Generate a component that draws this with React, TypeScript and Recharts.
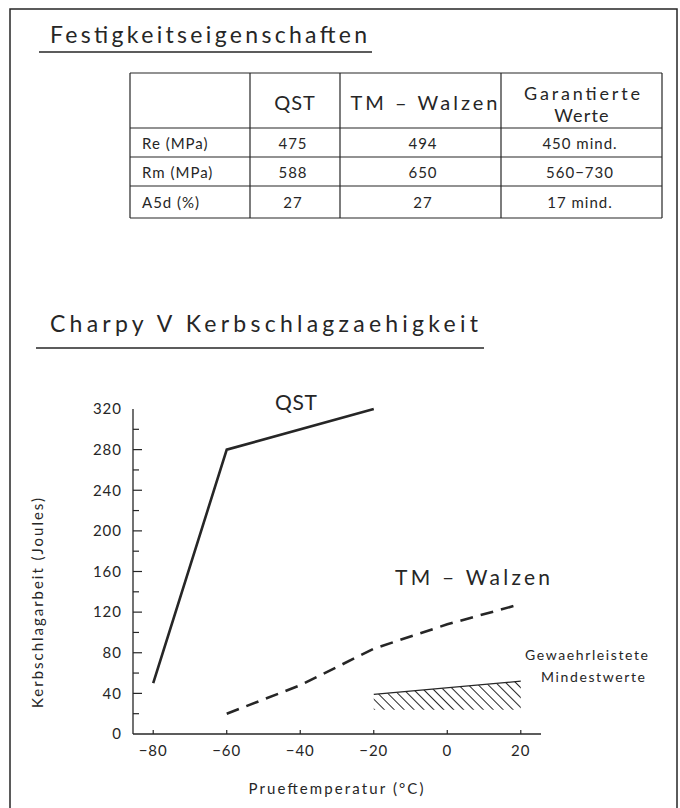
import { ComposedChart, Line, Area, XAxis, YAxis } from 'recharts';

// Kerbschlagarbeit (Joules) über Prueftemperatur (°C)
const temperatures = [-80, -60, -40, -20, 0, 20];
const qstJoules = [50, 280, null, 320, null, null];
const tmJoules = [null, 20, 48, 84, 108, 128];
const minUpper = [null, null, null, 39, null, 52];
const minLower = [null, null, null, 24, null, 24];
const yTicks = [0, 20, 40, 60, 80, 100, 120, 140, 160, 180, 200, 220, 240, 260, 280, 300, 320];

// Festigkeitseigenschaften
const tableHeader = ['', 'QST', 'TM – Walzen', 'Garantierte Werte'];
const rowLabels = ['Re (MPa)', 'Rm (MPa)', 'A5d (%)'];
const qstValues = ['475', '588', '27'];
const tmValues = ['494', '650', '27'];
const guaranteedValues = ['450 mind.', '560−730', '17 mind.'];

const INK = '#262626';
const FONT = "Lato, 'DejaVu Sans', sans-serif";

const data = temperatures.map((t, i) => ({
  t,
  qst: qstJoules[i],
  tm: tmJoules[i],
  minTop: minUpper[i],
  minBand: minUpper[i] != null ? [minLower[i], minUpper[i]] : null,
}));

const fmtMinus = (v: number) => String(v).replace('-', '−');

function YTick({ x, y, payload }: any) {
  const v = payload.value;
  const major = v % 40 === 0;
  return (
    <g>
      {v > 0 && v < 320 && (
        <line x1={x + 11} x2={x + 11 + (major ? 9 : 6)} y1={y} y2={y} stroke={INK} strokeWidth={1.2} />
      )}
      {major && (
        <text x={x} y={y} dy="0.35em" textAnchor="end" fontSize={15} fill={INK} fontFamily={FONT} letterSpacing={1}>
          {v}
        </text>
      )}
    </g>
  );
}

function XTick({ x, y, payload }: any) {
  return (
    <g>
      <line x1={x} x2={x} y1={y - 11} y2={y - 15} stroke={INK} strokeWidth={1.2} />
      <text x={x} y={y} dy="0.71em" textAnchor="middle" fontSize={15} fill={INK} fontFamily={FONT} letterSpacing={1}>
        {fmtMinus(payload.value)}
      </text>
    </g>
  );
}

// table geometry
const colX = [130, 250, 340, 501, 662];
const rowY = [73, 128, 157, 186, 218];

function Background() {
  const txt = { fill: INK, fontFamily: FONT } as const;
  return (
    <svg width={680} height={808} style={{ position: 'absolute', left: 0, top: 0 }}>
      <rect x={10} y={9} width={667} height={812} fill="none" stroke={INK} strokeWidth={1.5} />

      <text x={50} y={43} fontSize={23} textLength={317} {...txt}>Festigkeitseigenschaften</text>
      <line x1={39} x2={372} y1={52} y2={52} stroke={INK} strokeWidth={1.3} />

      {colX.map((x) => (
        <line key={'c' + x} x1={x} x2={x} y1={rowY[0]} y2={rowY[4]} stroke={INK} strokeWidth={1.2} />
      ))}
      {rowY.map((y) => (
        <line key={'r' + y} x1={colX[0]} x2={colX[4]} y1={y} y2={y} stroke={INK} strokeWidth={1.2} />
      ))}

      <text x={295} y={110} fontSize={20} textAnchor="middle" letterSpacing={1} {...txt}>{tableHeader[1]}</text>
      <text x={424} y={110} fontSize={20} textAnchor="middle" textLength={147} {...txt}>{tableHeader[2]}</text>
      <text x={582} y={100} fontSize={18} textAnchor="middle" textLength={116} {...txt}>{tableHeader[3].split(' ')[0]}</text>
      <text x={582} y={122} fontSize={18} textAnchor="middle" letterSpacing={1.2} {...txt}>{tableHeader[3].split(' ')[1]}</text>

      {rowLabels.map((lab, i) => {
        const base = (rowY[i + 1] + rowY[i + 2]) / 2 + 6;
        return (
          <g key={lab}>
            <text x={142} y={base} fontSize={15} letterSpacing={1} {...txt}>{lab}</text>
            <text x={293} y={base} fontSize={15} textAnchor="middle" letterSpacing={1} {...txt}>{qstValues[i]}</text>
            <text x={423} y={base} fontSize={15} textAnchor="middle" letterSpacing={1} {...txt}>{tmValues[i]}</text>
            <text x={580} y={base} fontSize={15} textAnchor="middle" letterSpacing={1} {...txt}>{guaranteedValues[i]}</text>
          </g>
        );
      })}

      <text x={50} y={332} fontSize={23} textLength={428} {...txt}>Charpy V Kerbschlagzaehigkeit</text>
      <line x1={36} x2={484} y1={348} y2={348} stroke={INK} strokeWidth={1.3} />

      <text x={296} y={410} fontSize={21} textAnchor="middle" textLength={42} {...txt}>QST</text>
      <text x={395} y={585} fontSize={21} textLength={155} {...txt}>TM – Walzen</text>
      <text x={525} y={660} fontSize={14} textLength={123} {...txt}>Gewaehrleistete</text>
      <text x={541} y={682} fontSize={14} textLength={104} {...txt}>Mindestwerte</text>

      <text x={336} y={794} fontSize={15} textAnchor="middle" textLength={175} {...txt}>Prueftemperatur (°C)</text>
      <text x={38} y={603} dy="0.35em" fontSize={15} textAnchor="middle" textLength={210} transform="rotate(-90 38 603)" {...txt}>
        Kerbschlagarbeit (Joules)
      </text>
    </svg>
  );
}

export default function App() {
  return (
    <div style={{ position: 'absolute', left: 0, top: 0, width: 680, height: 808, background: '#fff' }}>
      <Background />
      <div style={{ position: 'absolute', left: 0, top: 360 }}>
        <ComposedChart width={680} height={448} data={data} margin={{ top: 49, right: 139, bottom: 34, left: 73 }}>
          <defs>
            <pattern id="hatch" width={7} height={7} patternUnits="userSpaceOnUse" patternTransform="rotate(-45)">
              <line x1={3.5} y1={0} x2={3.5} y2={7} stroke={INK} strokeWidth={1} />
            </pattern>
          </defs>
          <XAxis
            type="number"
            dataKey="t"
            domain={[-85.5, 25.5]}
            ticks={temperatures}
            interval={0}
            height={40}
            tickSize={0}
            tickMargin={11}
            tickLine={false}
            axisLine={{ stroke: INK, strokeWidth: 1.3 }}
            tick={<XTick />}
          />
          <YAxis
            type="number"
            domain={[0, 320]}
            ticks={yTicks}
            interval={0}
            width={60}
            tickSize={0}
            tickMargin={11}
            tickLine={false}
            axisLine={{ stroke: INK, strokeWidth: 1.3 }}
            tick={<YTick />}
          />
          <Area
            dataKey="minBand"
            stroke="none"
            fill="url(#hatch)"
            fillOpacity={1}
            connectNulls
            isAnimationActive={false}
            activeDot={false}
          />
          <Line dataKey="minTop" stroke={INK} strokeWidth={1.2} dot={false} activeDot={false} connectNulls isAnimationActive={false} />
          <Line dataKey="qst" stroke={INK} strokeWidth={2.6} dot={false} activeDot={false} connectNulls isAnimationActive={false} />
          <Line
            dataKey="tm"
            stroke={INK}
            strokeWidth={2.6}
            strokeDasharray="13 8"
            dot={false}
            activeDot={false}
            connectNulls
            isAnimationActive={false}
          />
        </ComposedChart>
      </div>
    </div>
  );
}
